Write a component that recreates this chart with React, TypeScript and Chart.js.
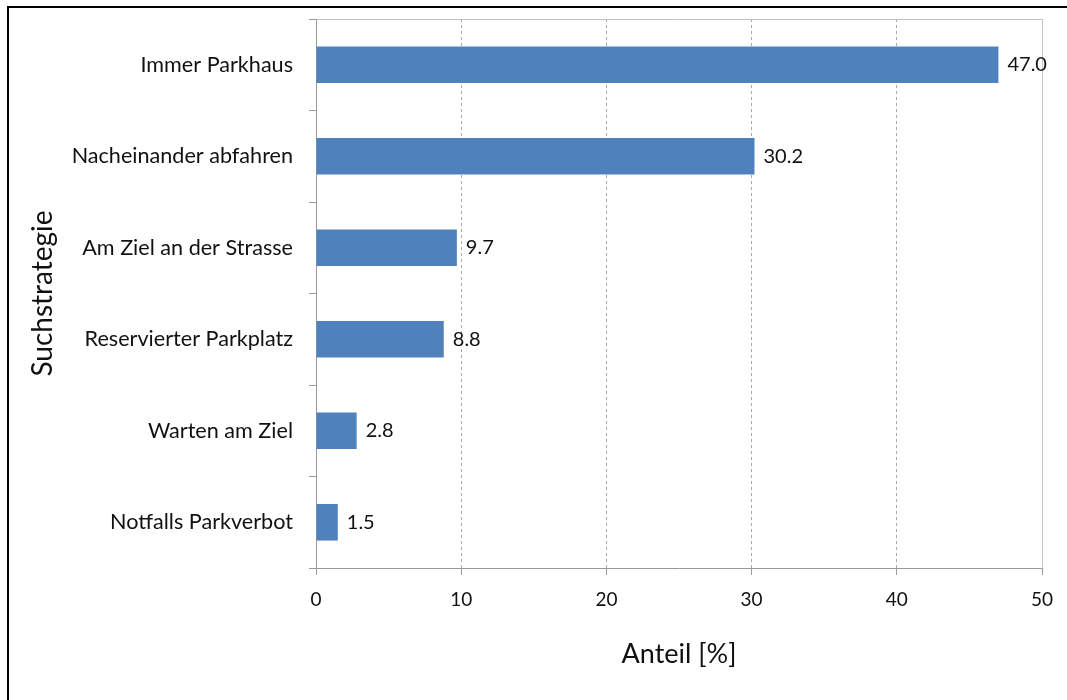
import React, { useEffect, useRef } from "react";
import { Chart, registerables } from "chart.js";

Chart.register(...registerables);

const categories: string[] = [
  "Immer Parkhaus",
  "Nacheinander abfahren",
  "Am Ziel an der Strasse",
  "Reservierter Parkplatz",
  "Warten am Ziel",
  "Notfalls Parkverbot",
];
const shares: number[] = [47.0, 30.2, 9.7, 8.8, 2.8, 1.5];
const xMin = 0;
const xMax = 50;
const xStep = 10;
const xTitle = "Anteil [%]";
const yTitle = "Suchstrategie";

const FONT = "Lato, 'Open Sans', sans-serif";
const TEXT = "#111111";
const BAR = "#4F81BD";

// White page behind the chart, black frame along its top and left edge
const framePlugin = {
  id: "outerFrame",
  beforeDraw(chart: Chart) {
    const { ctx, width, height } = chart;
    ctx.save();
    ctx.fillStyle = "#fff";
    ctx.fillRect(0, 0, width, height);
    ctx.restore();
  },
  afterDraw(chart: Chart) {
    const { ctx, width, height } = chart;
    ctx.save();
    ctx.fillStyle = "#000";
    ctx.fillRect(7, 6, width - 7, 2);
    ctx.fillRect(7, 6, 2, height - 6);
    ctx.restore();
  },
};

// Value labels to the right of each bar
const valueLabelPlugin = {
  id: "valueLabels",
  afterDatasetsDraw(chart: Chart) {
    const { ctx } = chart;
    const meta = chart.getDatasetMeta(0);
    const data = chart.data.datasets[0].data as number[];
    ctx.save();
    ctx.font = `20px ${FONT}`;
    ctx.fillStyle = TEXT;
    ctx.textAlign = "left";
    ctx.textBaseline = "middle";
    meta.data.forEach((el: any, i: number) => {
      ctx.fillText(data[i].toFixed(1), el.x + 9, el.y);
    });
    ctx.restore();
  },
};

export default function App() {
  const canvasRef = useRef<HTMLCanvasElement | null>(null);

  useEffect(() => {
    document.body.style.margin = "0";
    document.body.style.overflow = "hidden";
    const canvas = canvasRef.current;
    if (!canvas) return;
    const chart = new Chart(canvas, {
      type: "bar",
      data: {
        labels: categories,
        datasets: [
          {
            data: shares,
            backgroundColor: BAR,
            borderWidth: 0,
            categoryPercentage: 1,
            barPercentage: 0.4,
          },
        ],
      },
      options: {
        indexAxis: "y",
        animation: false,
        responsive: false,
        devicePixelRatio: 1,
        layout: { padding: { left: 0, top: 19, right: 25, bottom: 0 } },
        plugins: {
          legend: { display: false },
          tooltip: { enabled: false },
        },
        scales: {
          x: {
            type: "linear",
            min: xMin,
            max: xMax,
            ticks: {
              stepSize: xStep,
              padding: 13,
              color: TEXT,
              font: { family: FONT, size: 19 },
            },
            grid: {
              drawOnChartArea: true,
              drawTicks: true,
              tickLength: 7,
              tickColor: "#9a9a9a",
              color: (c: any) => {
                const v = c.tick ? c.tick.value : 0;
                if (v === xMin) return "rgba(0,0,0,0)";
                if (v === xMax) return "#c4c4c4";
                return "#a8a8a8";
              },
            },
            border: {
              display: true,
              color: "#9a9a9a",
              width: 1,
              dash: (c: any) => {
                const v = c.tick ? c.tick.value : 0;
                return v === xMax || v === xMin ? [] : [3, 3];
              },
            },
            title: {
              display: true,
              text: xTitle,
              color: TEXT,
              font: { family: FONT, size: 27 },
              padding: { top: 0, bottom: 30 },
            },
            afterFit: (scale: any) => {
              scale.height = 132;
              scale.paddingLeft = 0;
              scale.paddingRight = 0;
            },
          },
          y: {
            type: "category",
            ticks: {
              padding: 16,
              color: TEXT,
              font: { family: FONT, size: 21.6 },
            },
            grid: {
              offset: true,
              drawOnChartArea: true,
              drawTicks: true,
              tickLength: 7,
              tickColor: "#9a9a9a",
              color: (c: any) => (c.index === 0 ? "#c4c4c4" : "rgba(0,0,0,0)"),
            },
            border: { display: true, color: "#9a9a9a", width: 1 },
            title: {
              display: true,
              text: yTitle,
              color: TEXT,
              font: { family: FONT, size: 28 },
              padding: { top: 26, bottom: 0 },
            },
            afterFit: (scale: any) => {
              scale.width = 316;
              scale.paddingTop = 0;
              scale.paddingBottom = 0;
            },
          },
        },
      },
      plugins: [valueLabelPlugin, framePlugin],
    });
    return () => chart.destroy();
  }, []);

  return (
    <div
      style={{
        position: "absolute",
        left: 0,
        top: 0,
        width: 1067,
        height: 700,
        background: "#fff",
      }}
    >
      <canvas ref={canvasRef} width={1067} height={700} style={{ display: "block" }} />
    </div>
  );
}
